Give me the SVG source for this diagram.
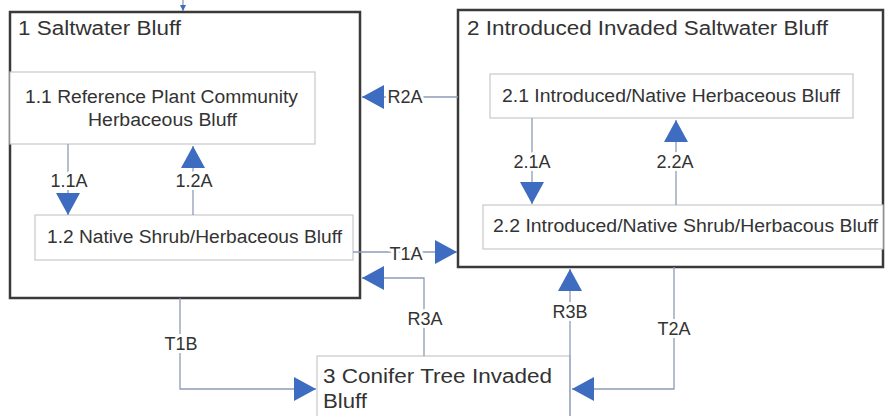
<svg xmlns="http://www.w3.org/2000/svg" width="885" height="416" viewBox="0 0 885 416">
<defs>
<marker id="ah" viewBox="0 0 22 24" refX="22" refY="12" markerWidth="22" markerHeight="24" markerUnits="userSpaceOnUse" orient="auto">
<path d="M0,0 L22,12 L0,24 Z" fill="#3d6cc0"/>
</marker>
<marker id="ahs" viewBox="0 0 6 6" refX="6" refY="3" markerWidth="6" markerHeight="6" markerUnits="userSpaceOnUse" orient="auto">
<path d="M0,0 L6,3 L0,6 Z" fill="#3d6cc0"/>
</marker>
</defs>
<style>
.outer{fill:#fff;stroke:#3a3a3a;stroke-width:2.5}
.inner{fill:#fff;stroke:#c8c8c8;stroke-width:1.2}
.t{font-family:"Liberation Sans",Arial,sans-serif;fill:#333}
.title{font-size:20px}
.in{font-size:18px}
.lbl{font-family:"Liberation Sans",Arial,sans-serif;font-size:18px;fill:#333;text-anchor:middle;stroke:#fff;stroke-width:6px;paint-order:stroke;stroke-linejoin:round}
.c{fill:none;stroke:#8d9cb3;stroke-width:1.3}
</style>
<rect width="885" height="416" fill="#fff"/>
<g id="box1">
<rect class="outer" x="10" y="12" width="350" height="286"/>
<text class="t title" x="18" y="35" textLength="163" lengthAdjust="spacingAndGlyphs">1 Saltwater Bluff</text>
</g>
<g id="box2">
<rect class="outer" x="458" y="10" width="425" height="257"/>
<text class="t title" x="467" y="35" textLength="361" lengthAdjust="spacingAndGlyphs">2 Introduced Invaded Saltwater Bluff</text>
</g>
<g id="box3">
<rect class="inner" x="317" y="356" width="253" height="80"/>
<text class="t title" x="323" y="383" textLength="229" lengthAdjust="spacingAndGlyphs">3 Conifer Tree Invaded</text>
<text class="t title" x="323" y="408" textLength="44" lengthAdjust="spacingAndGlyphs">Bluff</text>
</g>
<g id="n11">
<rect class="inner" x="10" y="72" width="305" height="72"/>
<text class="t in" x="25" y="103" textLength="273" lengthAdjust="spacingAndGlyphs">1.1 Reference Plant Community</text>
<text class="t in" x="88" y="126" textLength="149" lengthAdjust="spacingAndGlyphs">Herbaceous Bluff</text>
</g>
<g id="n12">
<rect class="inner" x="35" y="215" width="318" height="45"/>
<text class="t in" x="47" y="243" textLength="295" lengthAdjust="spacingAndGlyphs">1.2 Native Shrub/Herbaceous Bluff</text>
</g>
<g id="n21">
<rect class="inner" x="490" y="74" width="363" height="44"/>
<text class="t in" x="502" y="102" textLength="338" lengthAdjust="spacingAndGlyphs">2.1 Introduced/Native Herbaceous Bluff</text>
</g>
<g id="n22">
<rect class="inner" x="483" y="205" width="400" height="44"/>
<text class="t in" x="493" y="232" textLength="385" lengthAdjust="spacingAndGlyphs">2.2 Introduced/Native Shrub/Herbacous Bluff</text>
</g>
<g id="connectors">
<path class="c" d="M183,0 L183,11" marker-end="url(#ahs)"/>
<path class="c" d="M458,97 L362,97" marker-end="url(#ah)"/>
<path class="c" d="M68,144 L68,215" marker-end="url(#ah)"/>
<path class="c" d="M193,215 L193,146" marker-end="url(#ah)"/>
<path class="c" d="M353,252 L457,252" marker-end="url(#ah)"/>
<path class="c" d="M424,356 L424,278 L362,278" marker-end="url(#ah)"/>
<path class="c" d="M180,298 L180,389 L316,389" marker-end="url(#ah)"/>
<path class="c" d="M570,416 L570,269" marker-end="url(#ah)"/>
<path class="c" d="M674,267 L674,389 L572,389" marker-end="url(#ah)"/>
<path class="c" d="M532,118 L532,204" marker-end="url(#ah)"/>
<path class="c" d="M676,205 L676,120" marker-end="url(#ah)"/>
<text class="lbl" x="69" y="187">1.1A</text>
<text class="lbl" x="194" y="187">1.2A</text>
<text class="lbl" x="405" y="103">R2A</text>
<text class="lbl" x="406" y="260">T1A</text>
<text class="lbl" x="425" y="325">R3A</text>
<text class="lbl" x="181" y="350">T1B</text>
<text class="lbl" x="570" y="318">R3B</text>
<text class="lbl" x="674" y="335">T2A</text>
<text class="lbl" x="532" y="168">2.1A</text>
<text class="lbl" x="675" y="168">2.2A</text>
</g>
</svg>
